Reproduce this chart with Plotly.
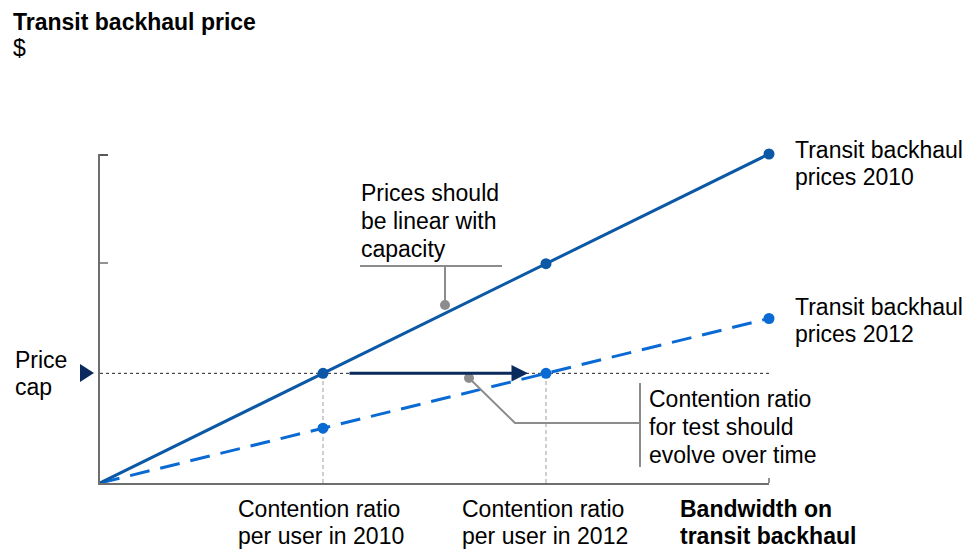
import plotly.graph_objects as go

# ---- data ----
bandwidth = [0, 1, 2, 3]
prices_2010 = [0, 1, 2, 3]
prices_2012 = [0, 0.5, 1, 1.5]
price_cap = 1
x_labels = [["Contention ratio", "per user in 2010"],
            ["Contention ratio", "per user in 2012"],
            ["<b>Bandwidth on</b>", "<b>transit backhaul</b>"]]
series_labels = [["Transit backhaul", "prices 2010"], ["Transit backhaul", "prices 2012"]]

# layout helpers: pixel -> paper coordinates
L, R, T, B = 100, 199, 154, 66
W, H = 968, 549
PW, PH = W - L - R, H - T - B
def PXp(px):
    return (px - L) / PW
def PYp(py):
    return (H - B - py) / PH
def X(px):
    return (px - L) / PW * 3
def Y(py):
    return (H - B - py) / PH * 3

FONT = "Liberation Sans, Arial, sans-serif"
FS = 23
C2010 = "#0b58a6"
C2012 = "#0a6ad3"
GREY = "#8c8c8c"
NAVY = "#0a2a5e"
AX = "#6e6e6e"

fig = go.Figure()

# drop lines
for xv in [1, 2]:
    fig.add_trace(go.Scatter(x=[xv, xv], y=[0, price_cap], mode="lines",
                             line=dict(color="#b0b0b0", width=1.2, dash="4px,3px"),
                             hoverinfo="skip", showlegend=False))
# price cap line
fig.add_trace(go.Scatter(x=[0, 3], y=[price_cap, price_cap], mode="lines",
                         line=dict(color="#222222", width=1, dash="3px,3px"),
                         hoverinfo="skip", showlegend=False))

# 2012 dashed
fig.add_trace(go.Scatter(x=bandwidth, y=prices_2012, mode="lines",
                         line=dict(color=C2012, width=3, dash="20px,11px"),
                         showlegend=False, cliponaxis=False))
fig.add_trace(go.Scatter(x=bandwidth[1:], y=prices_2012[1:], mode="markers",
                         marker=dict(color=C2012, size=11),
                         showlegend=False, cliponaxis=False))
# 2010 solid
fig.add_trace(go.Scatter(x=bandwidth, y=prices_2010, mode="lines",
                         line=dict(color=C2010, width=3),
                         showlegend=False, cliponaxis=False))
fig.add_trace(go.Scatter(x=bandwidth[1:], y=prices_2010[1:], mode="markers",
                         marker=dict(color=C2010, size=11),
                         showlegend=False, cliponaxis=False))

# callout lines
fig.add_trace(go.Scatter(x=[X(360), X(502), None, X(445), X(445)],
                         y=[Y(266), Y(266), None, Y(266), Y(305)], mode="lines",
                         line=dict(color=GREY, width=2), showlegend=False,
                         hoverinfo="skip", cliponaxis=False))
fig.add_trace(go.Scatter(x=[X(469), X(515), X(640), None, X(640), X(640)],
                         y=[Y(378), Y(423), Y(423), None, Y(383), Y(467)], mode="lines",
                         line=dict(color=GREY, width=2), showlegend=False,
                         hoverinfo="skip", cliponaxis=False))
fig.add_trace(go.Scatter(x=[X(445), X(469)], y=[Y(305), Y(378)], mode="markers",
                         marker=dict(color=GREY, size=10), showlegend=False,
                         cliponaxis=False))

shapes = []
# price cap triangle
shapes.append(dict(type="path", xref="paper", yref="paper",
                   path=f"M {PXp(80)} {PYp(364)} L {PXp(94)} {PYp(373)} L {PXp(80)} {PYp(382)} Z",
                   fillcolor=NAVY, line=dict(width=0)))
# y ticks
for py, col in [(155, "#222222"), (263, AX)]:
    shapes.append(dict(type="line", xref="paper", yref="paper",
                       x0=PXp(100), x1=PXp(108), y0=PYp(py), y1=PYp(py),
                       line=dict(color=col, width=1.5)))
shapes.append(dict(type="line", xref="paper", yref="paper",
                   x0=PXp(769), x1=PXp(769), y0=PYp(478), y1=PYp(483),
                   line=dict(color=AX, width=1.5)))

ann = []
# arrow
ann.append(dict(x=X(528), y=price_cap, ax=X(348), ay=price_cap, xref="x", yref="y",
                axref="x", ayref="y", showarrow=True, arrowhead=2, arrowsize=1.1,
                arrowwidth=3, arrowcolor=NAVY, text=""))

def txt(lines, px, py_first, pitch=28, xanchor="left", bold=False):
    for i, s in enumerate(lines):
        if bold:
            s = f"<b>{s}</b>"
        ann.append(dict(text=s, x=PXp(px), y=PYp(py_first + i * pitch),
                        xref="paper", yref="paper", showarrow=False,
                        xanchor=xanchor, yanchor="middle",
                        font=dict(family=FONT, size=FS, color="#000000")))

txt(["Transit backhaul price"], 11, 22, bold=True)
txt(["$"], 11, 48)
txt(["Price", "cap"], 13, 360, pitch=27)
txt(["Prices should", "be linear with", "capacity"], 359, 193)
txt(["Contention ratio", "for test should", "evolve over time"], 647, 399)
lefts = [236, 460, 678]
for i, lab in enumerate(x_labels):
    txt(lab, lefts[i], 509, pitch=27)
txt(series_labels[0], 793, 150, pitch=27)
txt(series_labels[1], 793, 307, pitch=27)

fig.update_layout(
    width=W, height=H,
    margin=dict(l=L, r=R, t=T, b=B),
    plot_bgcolor="white", paper_bgcolor="white",
    annotations=ann, shapes=shapes,
    xaxis=dict(range=[0, 3], showgrid=False, zeroline=False, showline=True,
               linecolor=AX, linewidth=1.5, showticklabels=False, ticks=""),
    yaxis=dict(range=[0, 3], showgrid=False, zeroline=False, showline=True,
               linecolor=AX, linewidth=1.5, showticklabels=False, ticks=""),
)

fig.write_html("out.html")
